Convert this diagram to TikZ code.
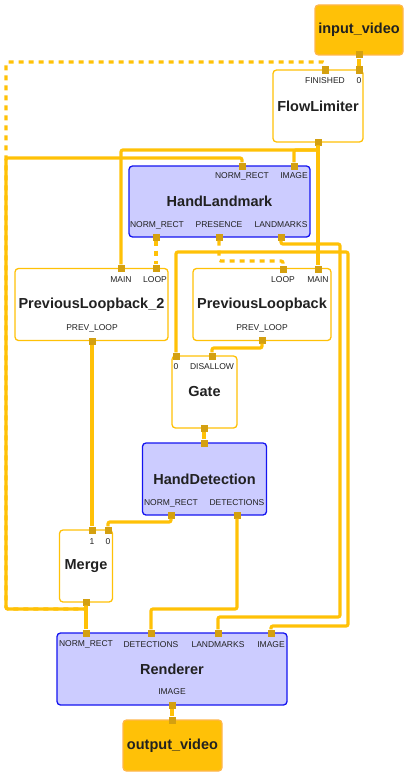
\documentclass[tikz,border=0pt]{standalone}
\usepackage{fontspec}
\setmainfont{Liberation Sans}
\definecolor{amber}{RGB}{255,193,7}
\definecolor{portc}{RGB}{212,160,16}
\definecolor{bluefill}{RGB}{204,204,255}
\definecolor{blueline}{RGB}{20,20,240}
\definecolor{streamline}{RGB}{255,183,77}
\definecolor{ink}{RGB}{33,33,33}
\begin{document}
\begin{tikzpicture}[x=1pt,y=-1pt]
        \tikzstyle{every node}+=[inner sep=0pt, text=ink]
        \tikzstyle{calc}=[draw=amber, line width=1.3pt, fill=white, rounded corners=3.5pt, minimum height=72pt, font=\bfseries\fontsize{14.5}{16}\selectfont]
        \tikzstyle{subg}=[calc, draw=blueline, fill=bluefill]
        \tikzstyle{strm}=[calc, draw=streamline, fill=amber, minimum height=50pt]
        \tikzstyle{port}=[fill=portc, minimum size=7pt]
        \tikzstyle{plab}=[font=\fontsize{8.5}{9}\selectfont]
        \tikzstyle{wire}=[draw=amber, line width=3.2pt, rounded corners=2pt]
        \tikzstyle{back}=[wire, dash pattern=on 5pt off 5pt]
        \useasboundingbox (0,0) rectangle (408,776);
        \node [strm, minimum width=88pt] (input) at (359,30) {input\_video};
        \node [calc, minimum width=90pt] (flow) at (318,106) {FlowLimiter};
        \node [subg, minimum width=181pt, minimum height=71pt] (hland) at (219.5,201.5) {HandLandmark};
        \node [calc, minimum width=153pt] (prevtwo) at (91.5,304.5) {PreviousLoopback\_2};
        \node [calc, minimum width=138pt] (prev) at (262,304.5) {PreviousLoopback};
        \node [calc, minimum width=65pt] (gate) at (204.5,392) {Gate};
        \node [subg, minimum width=124pt] (hdet) at (204.5,479) {HandDetection};
        \node [calc, minimum width=53pt] (merge) at (86,566) {Merge};
        \node [subg, minimum width=230pt] (render) at (172,669) {Renderer};
        \node [strm, minimum width=99pt, minimum height=51pt] (output) at (172.5,745.5) {output\_video};
        \node [port] (inout) at (359,55) {};
        \node [port] (flfin) at (325,70) {};
        \node [port] (flin) at (359,70) {};
        \node [port] (flout) at (318,142) {};
        \node [port] (hlrectin) at (242,166) {};
        \node [port] (hlimg) at (294,166) {};
        \node [port] (hlrectout) at (156,237) {};
        \node [port] (hlpres) at (219,237) {};
        \node [port] (hlmarks) at (281,237) {};
        \node [port] (ptmain) at (121,268) {};
        \node [port] (ptloop) at (156,268) {};
        \node [port] (ptprev) at (92,341) {};
        \node [port] (plloop) at (283,269) {};
        \node [port] (plmain) at (318,269) {};
        \node [port] (plprev) at (262,340) {};
        \node [port] (gtin) at (176,356) {};
        \node [port] (gtdis) at (212,356) {};
        \node [port] (gtout) at (204,428) {};
        \node [port] (hdin) at (204,443) {};
        \node [port] (hdrect) at (171,515) {};
        \node [port] (hddets) at (237,515) {};
        \node [port] (mgone) at (92,530) {};
        \node [port] (mgzero) at (108,530) {};
        \node [port] (mgout) at (86,602) {};
        \node [port] (rdrect) at (86,633) {};
        \node [port] (rddets) at (151,633) {};
        \node [port] (rdmarks) at (218,633) {};
        \node [port] (rdimg) at (271,633) {};
        \node [port] (rdout) at (172,705) {};
        \node [port] (outin) at (172,720) {};
        \draw [back] (mgout) -- ++(0,7) -| ++(-80,-547) -| (flfin);
        \draw [back] (hlrectout) -- (ptloop);
        \draw [back] (hlpres) -- ++(0,24) -| (plloop);
        \draw [wire] (inout) -- (flin);
        \draw [wire] (flout) -- ++(0,8) -| (ptmain);
        \draw [wire] (flout) -- ++(0,8) -| (hlimg);
        \draw [wire] (flout) -- (plmain);
        \draw [wire] (flout) -- ++(0,110) -| (gtin);
        \draw [wire] (flout) -- ++(0,110) -| ++(30,374) -| (rdimg);
        \draw [wire] (hlmarks) -- ++(0,7) -| ++(59,373) -| (rdmarks);
        \draw [wire] (ptprev) -- (mgone);
        \draw [wire] (plprev) -- ++(0,8) -| (gtdis);
        \draw [wire] (gtout) -- (hdin);
        \draw [wire] (hdrect) -- ++(0,7) -| (mgzero);
        \draw [wire] (hddets) -- ++(0,94) -| (rddets);
        \draw [wire] (mgout) -- (rdrect);
        \draw [wire] (mgout) -- ++(0,7) -| ++(-80,-451) -| (hlrectin);
        \draw [wire] (rdout) -- (outin);
        \node [plab] (lfin) at (325,81) {FINISHED};
        \node [plab] (lflin) at (359,81) {0};
        \node [plab] (lhlrect) at (242,176) {NORM\_RECT};
        \node [plab] (lhlimg) at (294,176) {IMAGE};
        \node [plab] (lhlrectout) at (157,225) {NORM\_RECT};
        \node [plab] (lhlpres) at (219,225) {PRESENCE};
        \node [plab] (lhlmarks) at (281,225) {LANDMARKS};
        \node [plab] (lptmain) at (121,280) {MAIN};
        \node [plab] (lptloop) at (155,280) {LOOP};
        \node [plab] (lptprev) at (92,328) {PREV\_LOOP};
        \node [plab] (lplloop) at (283,280) {LOOP};
        \node [plab] (lplmain) at (318,280) {MAIN};
        \node [plab] (lplprev) at (262,328) {PREV\_LOOP};
        \node [plab] (lgtin) at (176,367) {0};
        \node [plab] (lgtdis) at (212,367) {DISALLOW};
        \node [plab] (lhdrect) at (171,503) {NORM\_RECT};
        \node [plab] (lhddets) at (237,503) {DETECTIONS};
        \node [plab] (lmgone) at (92,542) {1};
        \node [plab] (lmgzero) at (108,542) {0};
        \node [plab] (lrdrect) at (86,644.5) {NORM\_RECT};
        \node [plab] (lrddets) at (151,644.5) {DETECTIONS};
        \node [plab] (lrdmarks) at (218,644.5) {LANDMARKS};
        \node [plab] (lrdimg) at (271,644.5) {IMAGE};
        \node [plab] (lrdout) at (172,692) {IMAGE};
\end{tikzpicture}
\end{document}
